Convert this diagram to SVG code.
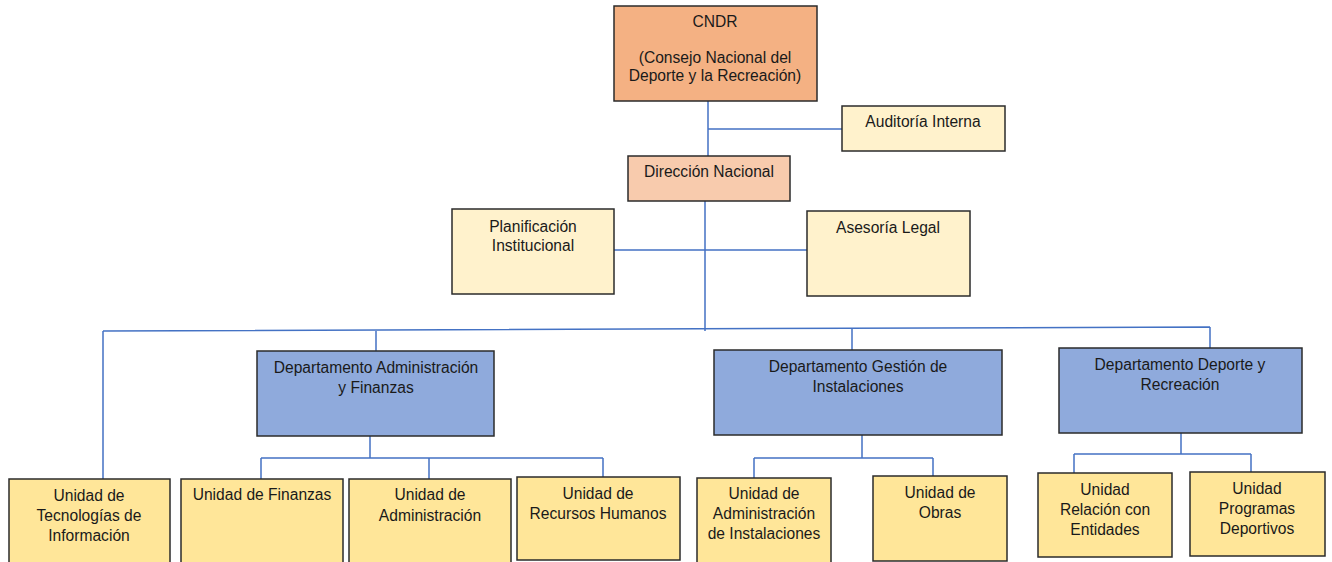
<svg xmlns="http://www.w3.org/2000/svg" width="1332" height="562" viewBox="0 0 1332 562">
<style>
.b{stroke:#2b2b2b;stroke-width:1.5}
.or{fill:#F4B183}.pe{fill:#F8CBAD}.cr{fill:#FFF2CC}.bl{fill:#8FAADC}.ye{fill:#FFE699}
text{font-family:"Liberation Sans",Arial,sans-serif;font-size:15.6px;fill:#1a1a1a;text-anchor:middle}
.c{stroke:#4472C4;stroke-width:1.5;fill:none}
</style>
<rect width="1332" height="562" fill="#fff"/>
<g id="connectors">
<path class="c" d="M708 101V156M708 129H842"/>
<path class="c" d="M705 201V331M614 250H807"/>
<path class="c" d="M103 331L1210 327M103 331V479M376 331V351M852 328V350M1210 327V348"/>
<path class="c" d="M370 436V458M261 458H603M261 458V479M429 458V479M603 458V477"/>
<path class="c" d="M862 435V458M754 458H933M754 458V478M933 458V476"/>
<path class="c" d="M1181 433V454M1074 454H1251M1074 454V473M1251 454V472"/>
</g>
<g id="cndr"><rect class="b or" x="614" y="6" width="203" height="95"/><text x="715" y="27">CNDR</text><text x="715" y="63">(Consejo Nacional del</text><text x="715" y="81">Deporte y la Recreación)</text></g>
<g id="auditoria"><rect class="b cr" x="842" y="106" width="163" height="45"/><text x="923" y="127">Auditoría Interna</text></g>
<g id="direccion"><rect class="b pe" x="628" y="156" width="162" height="45"/><text x="709" y="177">Dirección Nacional</text></g>
<g id="planificacion"><rect class="b cr" x="452" y="209" width="162" height="85"/><text x="533" y="232">Planificación</text><text x="533" y="251">Institucional</text></g>
<g id="asesoria"><rect class="b cr" x="807" y="211" width="163" height="85"/><text x="888" y="233">Asesoría Legal</text></g>
<g id="dep-admin"><rect class="b bl" x="257" y="351" width="237" height="85"/><text x="376" y="373">Departamento Administración</text><text x="376" y="393">y Finanzas</text></g>
<g id="dep-gestion"><rect class="b bl" x="714" y="350" width="288" height="85"/><text x="858" y="372">Departamento Gestión de</text><text x="858" y="392">Instalaciones</text></g>
<g id="dep-deporte"><rect class="b bl" x="1059" y="348" width="243" height="85"/><text x="1180" y="370">Departamento Deporte y</text><text x="1180" y="390">Recreación</text></g>
<g id="u-tec"><rect class="b ye" x="9" y="479" width="161" height="90"/><text x="89" y="501">Unidad de</text><text x="89" y="521">Tecnologías de</text><text x="89" y="541">Información</text></g>
<g id="u-fin"><rect class="b ye" x="181" y="479" width="162" height="90"/><text x="262" y="500">Unidad de Finanzas</text></g>
<g id="u-adm"><rect class="b ye" x="349" y="479" width="162" height="90"/><text x="430" y="500">Unidad de</text><text x="430" y="521">Administración</text></g>
<g id="u-rrhh"><rect class="b ye" x="517" y="477" width="163" height="83"/><text x="598" y="499">Unidad de</text><text x="598" y="519">Recursos Humanos</text></g>
<g id="u-inst"><rect class="b ye" x="697" y="478" width="134" height="90"/><text x="764" y="499">Unidad de</text><text x="764" y="519">Administración</text><text x="764" y="539">de Instalaciones</text></g>
<g id="u-obras"><rect class="b ye" x="873" y="476" width="134" height="85"/><text x="940" y="498">Unidad de</text><text x="940" y="518">Obras</text></g>
<g id="u-rel"><rect class="b ye" x="1038" y="473" width="134" height="84"/><text x="1105" y="495">Unidad</text><text x="1105" y="515">Relación con</text><text x="1105" y="535">Entidades</text></g>
<g id="u-prog"><rect class="b ye" x="1190" y="472" width="135" height="84"/><text x="1257" y="494">Unidad</text><text x="1257" y="514">Programas</text><text x="1257" y="534">Deportivos</text></g>
</svg>
